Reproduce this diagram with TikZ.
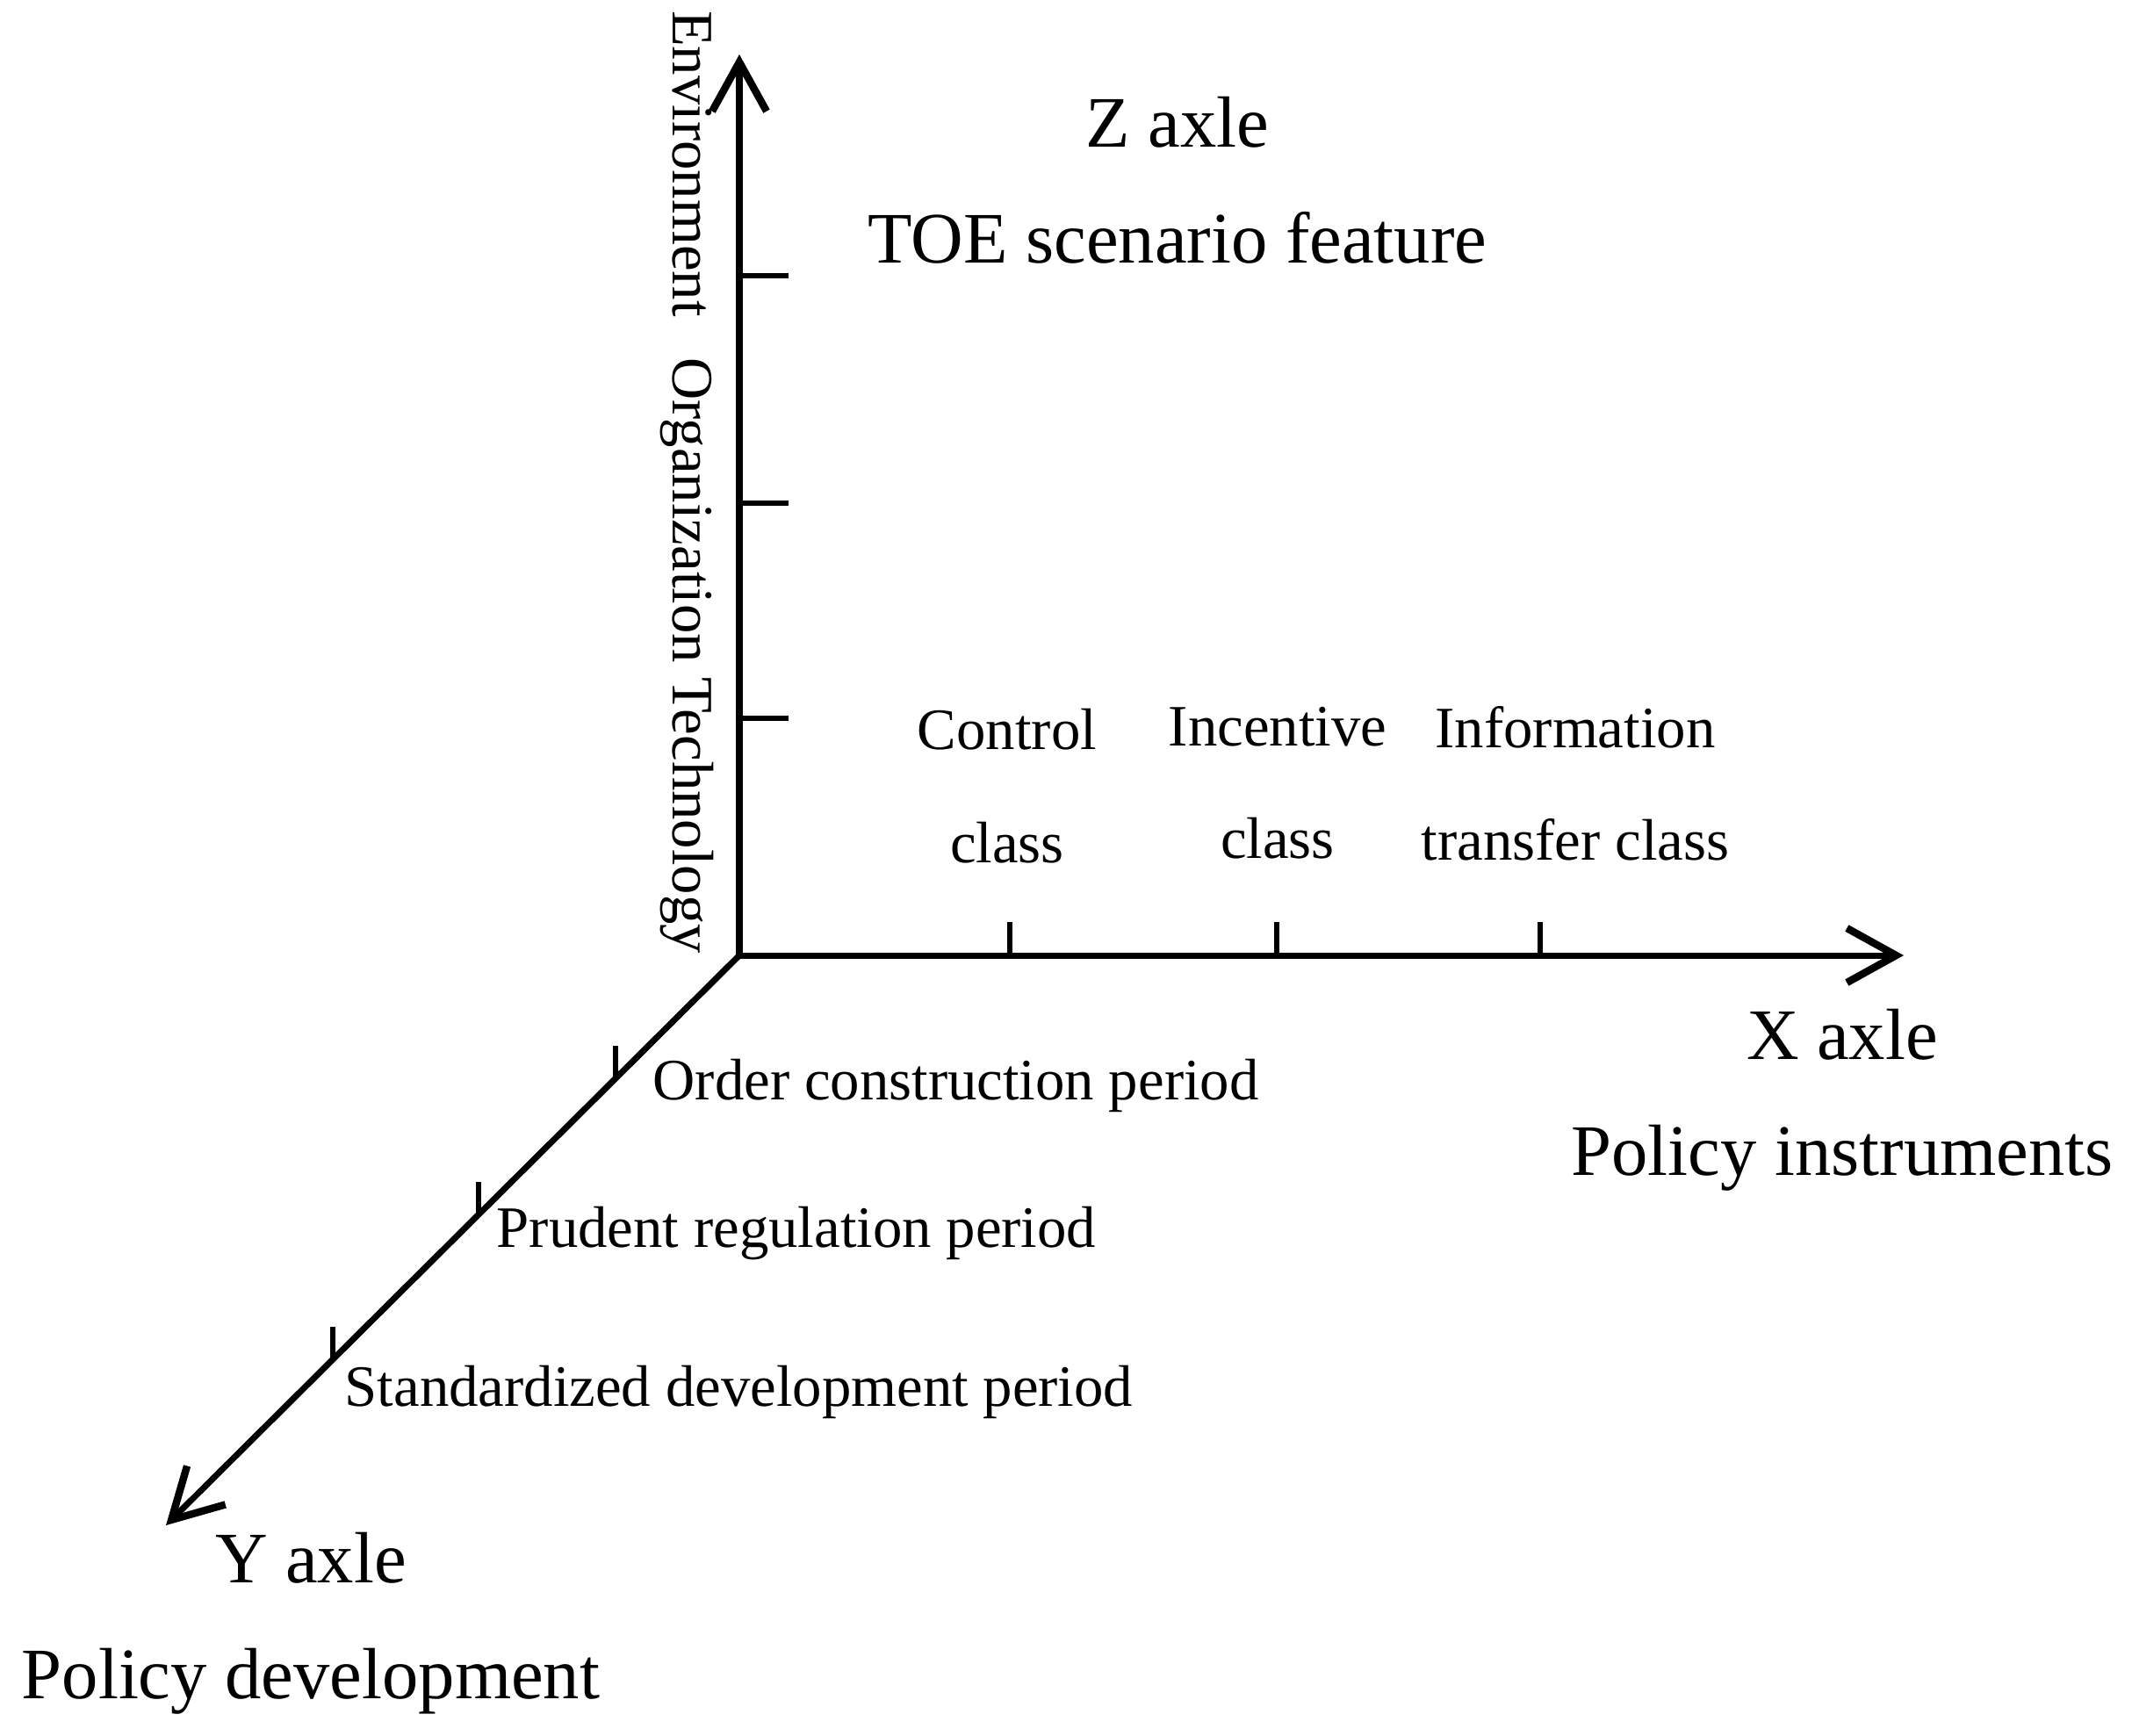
\documentclass[tikz,border=0pt]{standalone}
\usepackage{fontspec}
\setmainfont{Liberation Serif}
\usetikzlibrary{arrows.meta,positioning}

\tikzset{
	axis/.style={line width=2pt, -{Straight Barb[length=5.6mm, width=6.2mm, line width=2.4pt]}},
	tick/.style={line width=1.5pt},
	small/.style={font=\fontsize{19}{36.5}\selectfont, inner sep=0pt, align=center},
	big/.style={font=\fontsize{23.5}{37.5}\selectfont, inner sep=0pt, align=center}
}

\begin{document}
\begin{tikzpicture}
	\useasboundingbox (0,0) rectangle (24.28,-19.76);
	\coordinate (O) at (8.42,-10.88);
	\coordinate (X) at (21.68,-10.88);
	\coordinate (Y) at (1.89,-17.37);
	\coordinate (Z) at (8.42,-0.62);
	\draw[axis] (O) -- (Z);
	\draw[axis] (O) -- (X);
	\draw[axis] (O) -- (Y);
	\draw[tick] (8.42,-3.14) -- ++(0.56,0);
	\draw[tick] (8.42,-5.73) -- ++(0.56,0);
	\draw[tick] (8.42,-8.18) -- ++(0.56,0);
	\draw[tick] (11.50,-10.88) -- ++(0,0.38);
	\draw[tick] (14.54,-10.88) -- ++(0,0.38);
	\draw[tick] (17.54,-10.88) -- ++(0,0.38);
	\path (O) -- (Y) coordinate[pos=0.216] (y1) coordinate[pos=0.455] (y2) coordinate[pos=0.709] (y3);
	\draw[tick] (y1) -- ++(0,0.37);
	\draw[tick] (y2) -- ++(0,0.37);
	\draw[tick] (y3) -- ++(0,0.37);
	\node[big] (zlab) at (13.41,-2.05) {Z axle\\TOE scenario feature};
	\node[small, rotate=-90] (toe) at (7.82,-5.49) {Environment\hspace{0.7em}Organization Technology};
	\node[big] (xlab) at (20.98,-12.53) {X axle\\Policy instruments};
	\node[big] (ylab) at (3.54,-18.49) {Y axle\\Policy development};
	\node[small] (control) at (11.47,-8.95) {Control\\class};
	\node[small] (incentive) at (14.55,-8.92) {Incentive\\class};
	\node[small] (information) at (17.94,-8.92) {Information\\transfer class};
	\node[small, anchor=base west] (order) at (7.43,-12.52) {Order construction period};
	\node[small, anchor=base west] (prudent) at (5.65,-14.20) {Prudent regulation period};
	\node[small, anchor=base west] (standard) at (3.92,-16.01) {Standardized development period};
\end{tikzpicture}
\end{document}
